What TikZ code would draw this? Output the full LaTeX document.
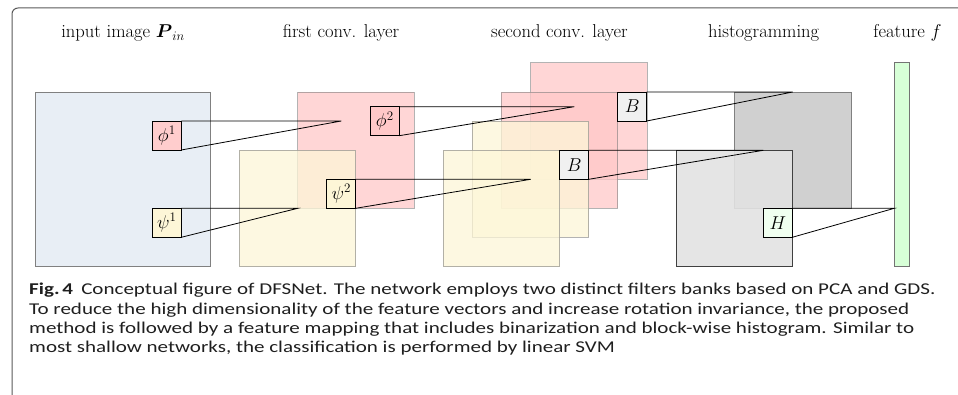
\RequirePackage{fix-cm}
\documentclass[tikz,border=0pt]{standalone}
\usepackage{amsmath,amssymb}
\usepackage{fontspec}
\newfontfamily\capfont{Carlito}[FakeStretch=1.275]
\usetikzlibrary{positioning}
\definecolor{inpblue}{RGB}{232,238,245}
\definecolor{pinkmap}{RGB}{255,200,200}
\definecolor{yelmap}{RGB}{253,246,215}
\definecolor{histdark}{RGB}{208,208,208}
\definecolor{histlight}{RGB}{226,226,226}
\definecolor{hbox}{RGB}{240,255,240}
\definecolor{featgrn}{RGB}{215,255,215}
\tikzset{
  sq/.style={draw=black!50,line width=.8pt,minimum size=116.5pt,inner sep=0pt,
             outer sep=0pt,anchor=north west},
  pnk/.style={sq,fill=pinkmap,fill opacity=.75,draw opacity=.6},
  ylw/.style={sq,fill=yelmap,fill opacity=.75,draw opacity=.6},
  flt/.style={draw=black,line width=.8pt,minimum size=29pt,inner sep=0pt,
              outer sep=0pt,anchor=north west},
  lnk/.style={line width=.8pt},
  ttl/.style={anchor=base},
}
\begin{document}
\begin{tikzpicture}[x=1pt,y=-1pt,font=\fontsize{18.6}{22}\selectfont]
  \useasboundingbox (0,0) rectangle (958,395);
  % frame
  \draw[black!65,line width=1pt,rounded corners=6pt] (12,395) -- (12,8) -- (958,8);
  % titles
  \node[ttl] (t-in)   at (123,37.5)   {input image $\boldsymbol{P}_{in}$};
  \node[ttl] (t-c1)   at (341,37.5)   {first conv. layer};
  \node[ttl] (t-c2)   at (559.5,37.5) {second conv. layer};
  \node[ttl] (t-hist) at (763.7,37.5) {histogramming};
  \node[ttl] (t-feat) at (907.5,37.5) {feature $f$};
  % input image
  \node[sq,fill=inpblue,minimum size=174.8pt] (inp) at (35.7,92) {};
  \node[flt,fill=pinkmap!90] (phi1) at (152.3,121) {$\phi^1$};
  \node[flt,fill=yelmap] (psi1) at (152.3,208.3) {$\psi^1$};
  % first conv. layer
  \node[pnk] (c1a) at (297.7,92) {};
  \node[ylw] (c1b) at (239.3,150.3) {};
  \node[flt,fill=pinkmap] (phi2) at (370.3,106.7) {$\phi^2$};
  \node[flt,fill=yelmap] (psi2) at (326.7,179.3) {$\psi^2$};
  % second conv. layer
  \node[pnk] (c2a) at (530.7,62.7) {};
  \node[pnk] (c2b) at (501.3,92) {};
  \node[ylw] (c2c) at (472.3,121) {};
  \node[ylw] (c2d) at (443.3,150.3) {};
  \node[flt,fill=black!6] (b1) at (617.7,92) {$B$};
  \node[flt,fill=black!6] (b2) at (559.7,150.3) {$B$};
  % histogramming
  \node[sq,fill=histdark] (h1) at (734.7,92) {};
  \node[sq,draw=black!75,fill=histlight,fill opacity=.9] (h2) at (676,150.3) {};
  \node[flt,fill=hbox] (hh) at (763.3,208.3) {$H$};
  % feature
  \node[draw=black!55,line width=.8pt,fill=featgrn,minimum width=14.7pt,
        minimum height=204pt,inner sep=0pt,outer sep=0pt,anchor=north west]
        (feat) at (894.3,62.7) {};
  % apex points
  \coordinate (a-phi1) at (341.3,121);
  \coordinate (a-psi1) at (297.7,208.3);
  \coordinate (a-phi2) at (574.3,106.7);
  \coordinate (a-psi2) at (530.7,179.3);
  \coordinate (a-b1)   at (792.7,92);
  \coordinate (a-b2)   at (763.3,150.3);
  \coordinate (a-h)    at (894.3,208.3);
  % receptive fields
  \draw[lnk] (phi1.north east) -- (a-phi1) -- (phi1.south east);
  \draw[lnk] (psi1.north east) -- (a-psi1) -- (psi1.south east);
  \draw[lnk] (phi2.north east) -- (a-phi2) -- (phi2.south east);
  \draw[lnk] (psi2.north east) -- (a-psi2) -- (psi2.south east);
  \draw[lnk] (b1.north east) -- (a-b1) -- (b1.south east);
  \draw[lnk] (b2.north east) -- (a-b2) -- (b2.south east);
  \draw[lnk] (hh.north east) -- (a-h) -- (hh.south east);
  % caption
  \node[anchor=base west,align=left,inner sep=0pt,text=black!88,
        font=\capfont\fontsize{16.5}{19.3}\selectfont] (cap) at (29,352.7)
    {\textbf{Fig.\,4}\hspace{.5em}Conceptual figure of DFSNet. The network employs two distinct filters banks based on PCA and GDS.\\
     To reduce the high dimensionality of the feature vectors and increase rotation invariance, the proposed\\
     method is followed by a feature mapping that includes binarization and block-wise histogram. Similar to\\
     most shallow networks, the classification is performed by linear SVM};
\end{tikzpicture}
\end{document}
